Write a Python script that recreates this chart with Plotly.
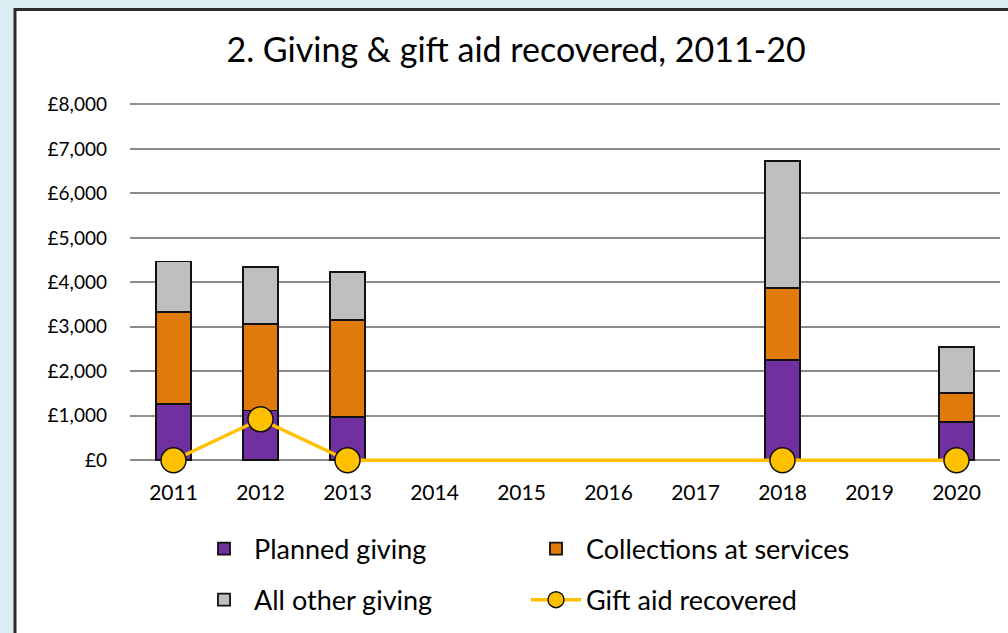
import plotly.graph_objects as go

years = ["2011", "2012", "2013", "2014", "2015", "2016", "2017", "2018", "2019", "2020"]
planned_giving = [1260, 1120, 970, None, None, None, None, 2250, None, 860]
collections = [2070, 1940, 2180, None, None, None, None, 1620, None, 650]
other_giving = [1140, 1280, 1080, None, None, None, None, 2850, None, 1030]
gift_aid = [0, 920, 0, None, None, None, None, 0, None, 0]
y_ticks = [0, 1000, 2000, 3000, 4000, 5000, 6000, 7000, 8000]
y_tick_labels = ["£0", "£1,000", "£2,000", "£3,000", "£4,000", "£5,000", "£6,000", "£7,000", "£8,000"]

FONT = "Lato"
W, H = 1008, 633
Y_LO, Y_HI = -40, 8100
PX_PER_UNIT = 356 / 8000  # 0 at px 460, 8000 at px 104
ML, MR = 130, 8
MT = 104 - (Y_HI - 8000) * PX_PER_UNIT
MB = H - (460 + (0 - Y_LO) * PX_PER_UNIT)
PW, PH = W - ML - MR, H - MT - MB


def px_x(p):
    return (p - ML) / PW


def px_y(p):
    return (H - MB - p) / PH


fig = go.Figure()
bar_line = dict(color="#111111", width=1.8)
fig.add_trace(go.Bar(x=years, y=planned_giving, name="Planned giving", legend="legend",
                     marker=dict(color="#7030A0", line=bar_line)))
fig.add_trace(go.Bar(x=years, y=collections, name="Collections at services", legend="legend",
                     marker=dict(color="#E07A0B", line=bar_line)))
fig.add_trace(go.Bar(x=years, y=other_giving, name="All other giving", legend="legend2",
                     marker=dict(color="#BFBFBF", line=bar_line)))
fig.add_trace(go.Scatter(x=years, y=gift_aid, name="Gift aid recovered", mode="lines+markers",
                         legend="legend2", connectgaps=True, cliponaxis=False,
                         line=dict(color="#FFC000", width=3.5),
                         marker=dict(color="#FFC000", size=25, line=dict(color="#111111", width=1.5))))

legend_common = dict(orientation="h", xanchor="left", yanchor="middle",
                     entrywidth=267, entrywidthmode="pixels", traceorder="normal",
                     font=dict(size=27, family=FONT, color="#000000"), itemwidth=50,
                     bgcolor="rgba(0,0,0,0)")

fig.update_layout(
    width=W, height=H,
    barmode="stack", bargap=0.59,
    paper_bgcolor="#DBEEF4", plot_bgcolor="rgba(0,0,0,0)",
    margin=dict(l=ML, r=MR, t=MT, b=MB, autoexpand=False),
    font=dict(family=FONT, color="#000000", size=20),
    title=dict(text="2. Giving & gift aid recovered, 2011-20", x=0.512, xanchor="center",
               y=1 - 50 / H, yanchor="middle", font=dict(size=34, family=FONT, color="#000000")),
    xaxis=dict(type="category", range=[-0.5, len(years) - 0.5], showgrid=False, showline=False,
               ticks="", automargin=False, tickfont=dict(size=21), ticklabelstandoff=16),
    yaxis=dict(range=[Y_LO, Y_HI], tickvals=y_ticks, ticktext=y_tick_labels, automargin=False,
               showgrid=True, gridcolor="#8C8C8C", gridwidth=1.8,
               zeroline=False, showline=False, ticks="", tickfont=dict(size=19),
               ticklabelstandoff=22),
    legend=dict(x=px_x(194), y=px_y(549), **legend_common),
    legend2=dict(x=px_x(194), y=px_y(600), **legend_common),
    shapes=[dict(type="rect", xref="paper", yref="paper", layer="below",
                 x0=px_x(15), x1=px_x(1030), y0=px_y(660), y1=px_y(9),
                 fillcolor="#FFFFFF", line=dict(color="#2B2B2B", width=3))],
)

fig.write_html("out.html", config={"displayModeBar": False},
               post_script="document.body.style.margin='0';")
